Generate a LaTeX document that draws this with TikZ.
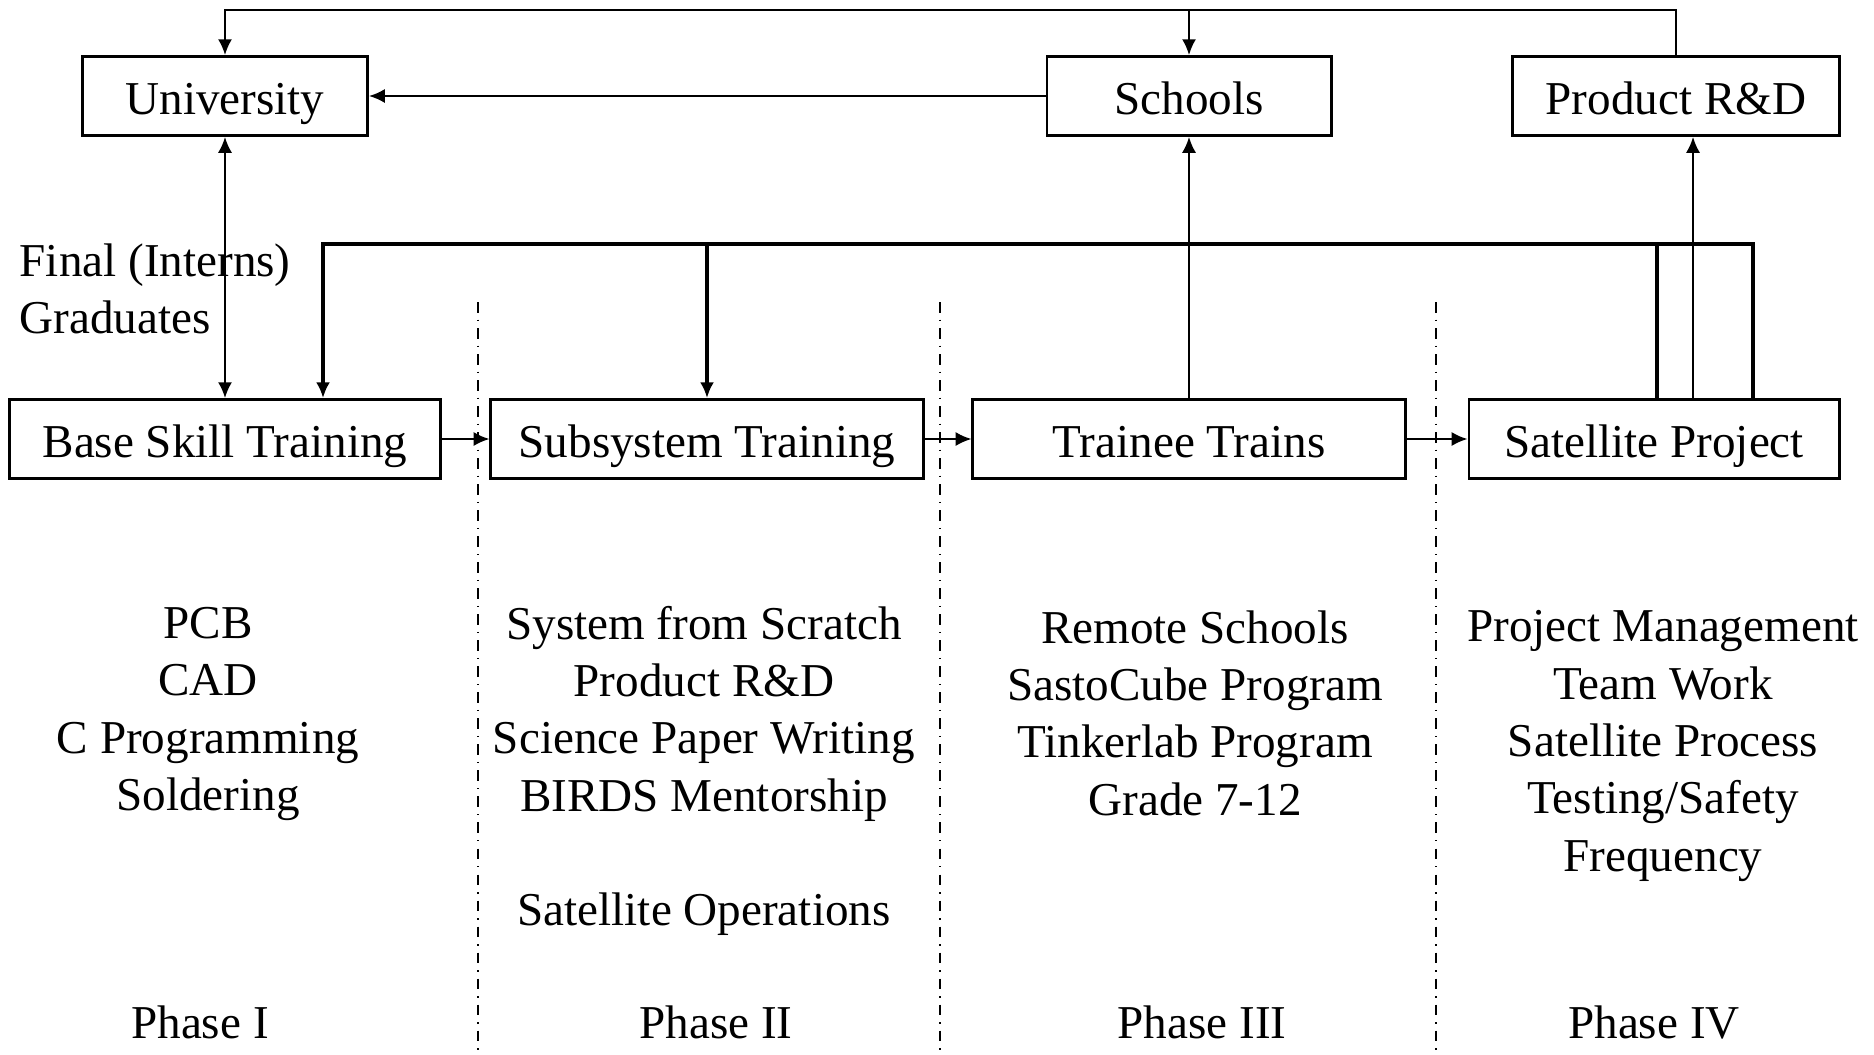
\documentclass[tikz,border=0pt]{standalone}
\usepackage{fontspec}
\setmainfont{Liberation Serif}
\usetikzlibrary{arrows.meta}

\begin{document}
\begin{tikzpicture}[x=0.01cm, y=-0.01cm, >={Latex[length=4.5pt,width=4pt]},
    every node/.style={font=\fontsize{13.4}{16.3}\selectfont},
    box/.style={draw, line width=0.8pt, minimum height=0.79cm, inner sep=0pt,
        text height=11.5pt, text depth=1.1pt},
    link/.style={line width=0.6pt, ->},
    feed/.style={line width=1pt, ->},
    split/.style={line width=0.4pt, dash dot}]
    \useasboundingbox (0,0) rectangle (1874,1054);

    % top row
    \node[box, minimum width=2.85cm] (uni) at (225,96) {University};
    \node[box, minimum width=2.84cm] (sch) at (1189,96) {Schools};
    \node[box, minimum width=3.27cm] (prd) at (1676,96) {Product R\&D};
    % training phases
    \node[box, minimum width=4.31cm] (base) at (225,439) {Base Skill Training};
    \node[box, minimum width=4.32cm] (sub) at (707,439) {Subsystem Training};
    \node[box, minimum width=4.32cm] (tt) at (1189,439) {Trainee Trains};
    \node[box, minimum width=3.70cm] (sat) at (1654,439) {Satellite Project};

    \coordinate (top) at (0,10);
    \coordinate (bus) at (0,244);
    \coordinate (rdin) at (1693,0);
    \coordinate (fa) at (1753,0);
    \coordinate (fb) at (1657,0);
    \coordinate (fc) at (323,0);

    \draw[link] (prd.north) -- (prd.north |- top) -| (uni.north);
    \draw[link] (sch.north |- top) -- (sch.north);
    \draw[link] (sch.west) -- (uni.east);
    \draw[link, <->] (uni.south) -- (base.north);
    \draw[link] (base.east) -- (sub.west);
    \draw[link] (sub.east) -- (tt.west);
    \draw[link] (tt.east) -- (sat.west);
    \draw[link] (tt.north) -- (sch.south);
    \draw[link] (sat.north -| rdin) -- (prd.south -| rdin);

    % feedback bus
    \draw[feed] (sat.north -| fa) |- (bus -| fc) -- (base.north -| fc);
    \draw[feed, -] (sat.north -| fb) -- (bus -| fb);
    \draw[feed] (bus -| sub.north) -- (sub.north);

    \foreach \x in {478,940,1436}
        \draw[split] (\x,302) -- (\x,1054);

    \node[align=left, anchor=west, inner sep=0pt] (grad) at (19,289) {Final (Interns)\\Graduates};

    \node[align=center] (skillsI) at (208,714) {PCB\\CAD\\C Programming\\Soldering};
    \node[align=center] (skillsII) at (704,771) {System from Scratch\\Product R\&D\\Science Paper Writing\\BIRDS Mentorship\\[16.3pt]Satellite Operations};
    \node[align=center] (skillsIII) at (1195,713) {Remote Schools\\SastoCube Program\\Tinkerlab Program\\Grade 7-12};
    \node[align=center] (skillsIV) at (1663,746) {Project Management\\Team Work\\Satellite Process\\Testing/Safety\\Frequency};

    \node (phaseI) at (200,1022) {Phase I};
    \node (phaseII) at (716,1022) {Phase II};
    \node (phaseIII) at (1202,1022) {Phase III};
    \node (phaseIV) at (1654,1022) {Phase IV};
\end{tikzpicture}
\end{document}
